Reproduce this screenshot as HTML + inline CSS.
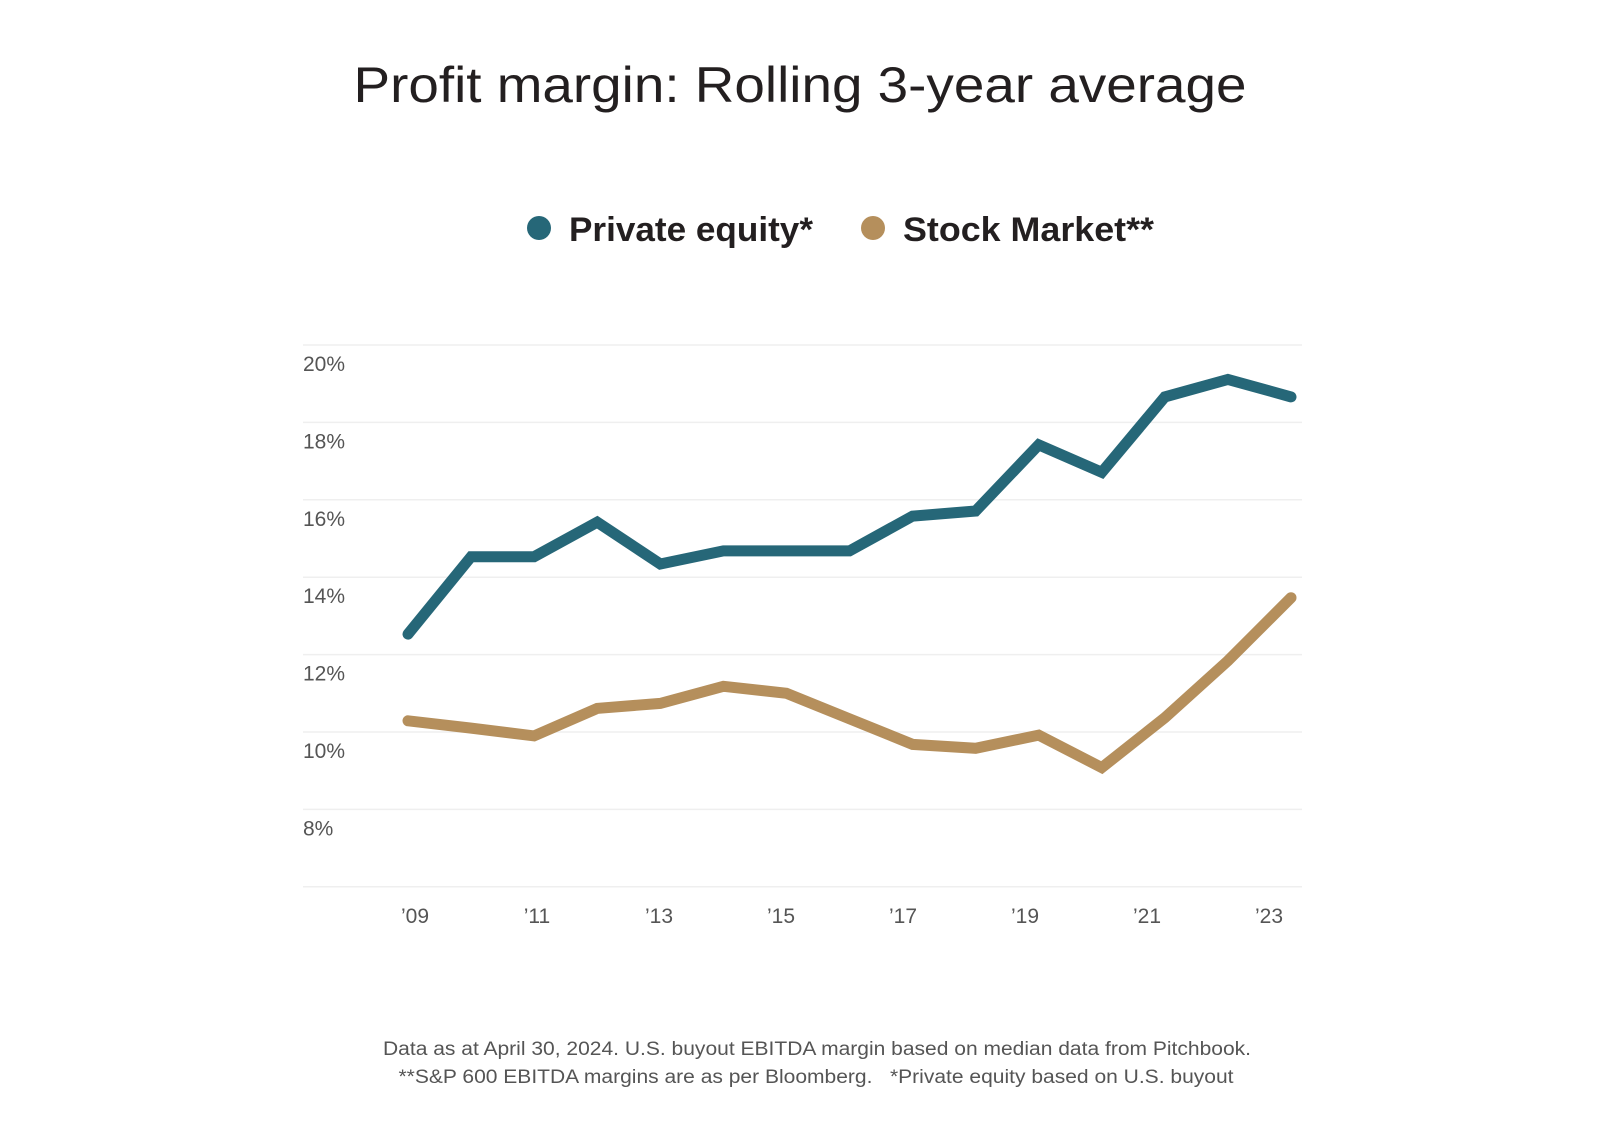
<!DOCTYPE html>
<html><head><meta charset="utf-8"><style>
html,body{margin:0;padding:0;background:#fff;}
svg{display:block;font-family:"Liberation Sans",sans-serif;}
</style></head><body>
<svg id="chart" width="1600" height="1147" viewBox="0 0 1600 1147" xmlns="http://www.w3.org/2000/svg">
<text x="800" y="102" text-anchor="middle" font-size="50" fill="#231f20" textLength="893" lengthAdjust="spacingAndGlyphs">Profit margin: Rolling 3-year average</text>
<g>
<g>
<circle cx="539" cy="228" r="12" fill="#266778"/>
<text x="569" y="241" font-size="34" font-weight="bold" fill="#231f20" textLength="244" lengthAdjust="spacingAndGlyphs">Private equity*</text>
</g>
<g>
<circle cx="873" cy="228" r="12" fill="#b58f5c"/>
<text x="903" y="241" font-size="34" font-weight="bold" fill="#231f20" textLength="251" lengthAdjust="spacingAndGlyphs">Stock Market**</text>
</g>
</g>
<g id="grid"></g>
<g id="yaxis"></g>
<g id="xaxis"></g>
<g id="series"></g>
<g font-size="19" fill="#555">
<text x="817" y="1055" text-anchor="middle" textLength="868" lengthAdjust="spacingAndGlyphs">Data as at April 30, 2024. U.S. buyout EBITDA margin based on median data from Pitchbook.</text>
<text x="816" y="1083" text-anchor="middle" textLength="835" lengthAdjust="spacingAndGlyphs" xml:space="preserve">**S&amp;P 600 EBITDA margins are as per Bloomberg.   *Private equity based on U.S. buyout</text>
</g>
</svg>
<script>
const years = [2009,2010,2011,2012,2013,2014,2015,2016,2017,2018,2019,2020,2021,2022,2023];
const privateEquity = [12.53,14.53,14.53,15.42,14.34,14.68,14.68,14.68,15.58,15.71,17.42,16.71,18.66,19.11,18.66];
const stockMarket = [10.29,10.1,9.9,10.61,10.74,11.18,11.0,10.34,9.68,9.58,9.92,9.08,10.37,11.84,13.47];
const yTicks = [20,18,16,14,12,10,8,6];
const yTickLabels = ['20%','18%','16%','14%','12%','10%','8%',''];
const xTickYears = [2009,2011,2013,2015,2017,2019,2021,2023];
const xTickLabels = ['\u201909','\u201911','\u201913','\u201915','\u201917','\u201919','\u201921','\u201923'];

const NS='http://www.w3.org/2000/svg';
function yScale(v){return 345+(20-v)*38.7;}
function xScale(yr){return 408+(yr-2009)*(1291-408)/14;}
function xLabel(yr){return 415+(yr-2009)*(1269-415)/14;}
function mk(tag,attrs,parent){const e=document.createElementNS(NS,tag);for(const k in attrs)e.setAttribute(k,attrs[k]);parent.appendChild(e);return e;}

const grid=document.getElementById('grid'),ya=document.getElementById('yaxis'),xa=document.getElementById('xaxis'),ser=document.getElementById('series');
yTicks.forEach((t,i)=>{
  const y=yScale(t);
  const l=mk('line',{x1:303,x2:1302,y1:y,y2:y,stroke:'#efefef','stroke-width':1.5},grid);
  
  
  if(yTickLabels[i]){
    const tx=mk('text',{x:303,y:y+26,'font-size':21,fill:'#555'},ya);
    tx.textContent=yTickLabels[i];
    
    
  }
});
xTickYears.forEach((yr,i)=>{
  const tx=mk('text',{x:xLabel(yr),y:923,'font-size':21,fill:'#555','text-anchor':'middle'},xa);
  tx.textContent=xTickLabels[i];
  
  
});
function drawLine(vals,color,name){
  const d=vals.map((v,i)=>(i?'L':'M')+xScale(years[i]).toFixed(1)+','+yScale(v).toFixed(1)).join(' ');
  const p=mk('path',{d:d,fill:'none',stroke:color,'stroke-width':11,'stroke-linejoin':'miter','stroke-linecap':'round'},ser);
  
  
}
drawLine(stockMarket,'#b58f5c','stock-market-line');
drawLine(privateEquity,'#266778','private-equity-line');
</script>
</body></html>
